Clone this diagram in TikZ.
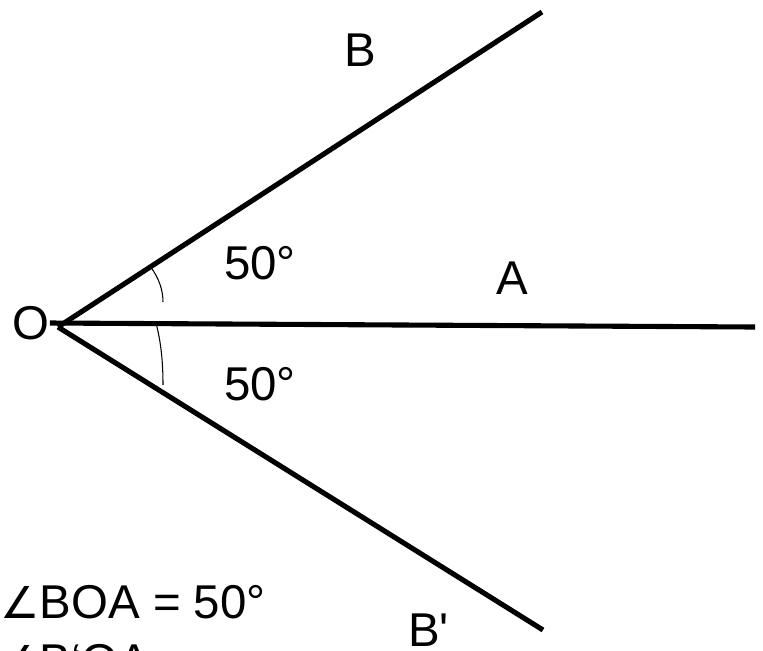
\documentclass[tikz,border=0pt]{standalone}
\usepackage{fontspec}
\setmainfont{Liberation Sans}
\newfontfamily\anglefont{DejaVu Sans}
\newfontfamily\plainfont{Liberation Sans}[Ligatures=TeXOff]
\usepackage{tikz}

\begin{document}
\begin{tikzpicture}[x=0.02cm, y=-0.02cm,
    ray/.style={line width=2.9pt},
    arcmark/.style={line width=0.6pt},
    lbl/.style={font=\fontsize{27}{32}\selectfont, inner sep=0pt}]
    \useasboundingbox (0,0) rectangle (763,650);

    % Vertex and ray ends
    \coordinate (vertex) at (58,327);
    \coordinate (aend) at (755,327);
    \coordinate (bend) at (542,12);
    \coordinate (bpend) at (543,630);

    % Labels
    \node[lbl] (olabel) at (31,323) {O};
    \node[lbl] (blabel) at (360,50) {B};
    \node[lbl] (alabel) at (512,278) {A};
    \node[lbl, anchor=west] (bplabel) at (408,630) {\plainfont B'};
    \node[lbl] (upangle) at (260,263) {50°};
    \node[lbl] (lowangle) at (260,384) {50°};

    % Rays
    \draw[ray] (olabel.east) -- (aend);
    \draw[ray] (vertex) -- (bend);
    \draw[ray] (vertex) -- (bpend);

    % Angle marks
    \draw[arcmark] (150,266) .. controls (159,278) and (163,290) .. (163,302);
    \draw[arcmark] (156,323) .. controls (161,342) and (163,362) .. (163,385);

    % Statements
    \node[lbl, anchor=base west] (stmt1) at (0,618) {{\anglefont\fontsize{25}{30}\selectfont ∠}BOA = 50°};
    \node[lbl, anchor=base west] (stmt2) at (0,677) {{\anglefont\fontsize{25}{30}\selectfont ∠}B‘OA};
\end{tikzpicture}
\end{document}
